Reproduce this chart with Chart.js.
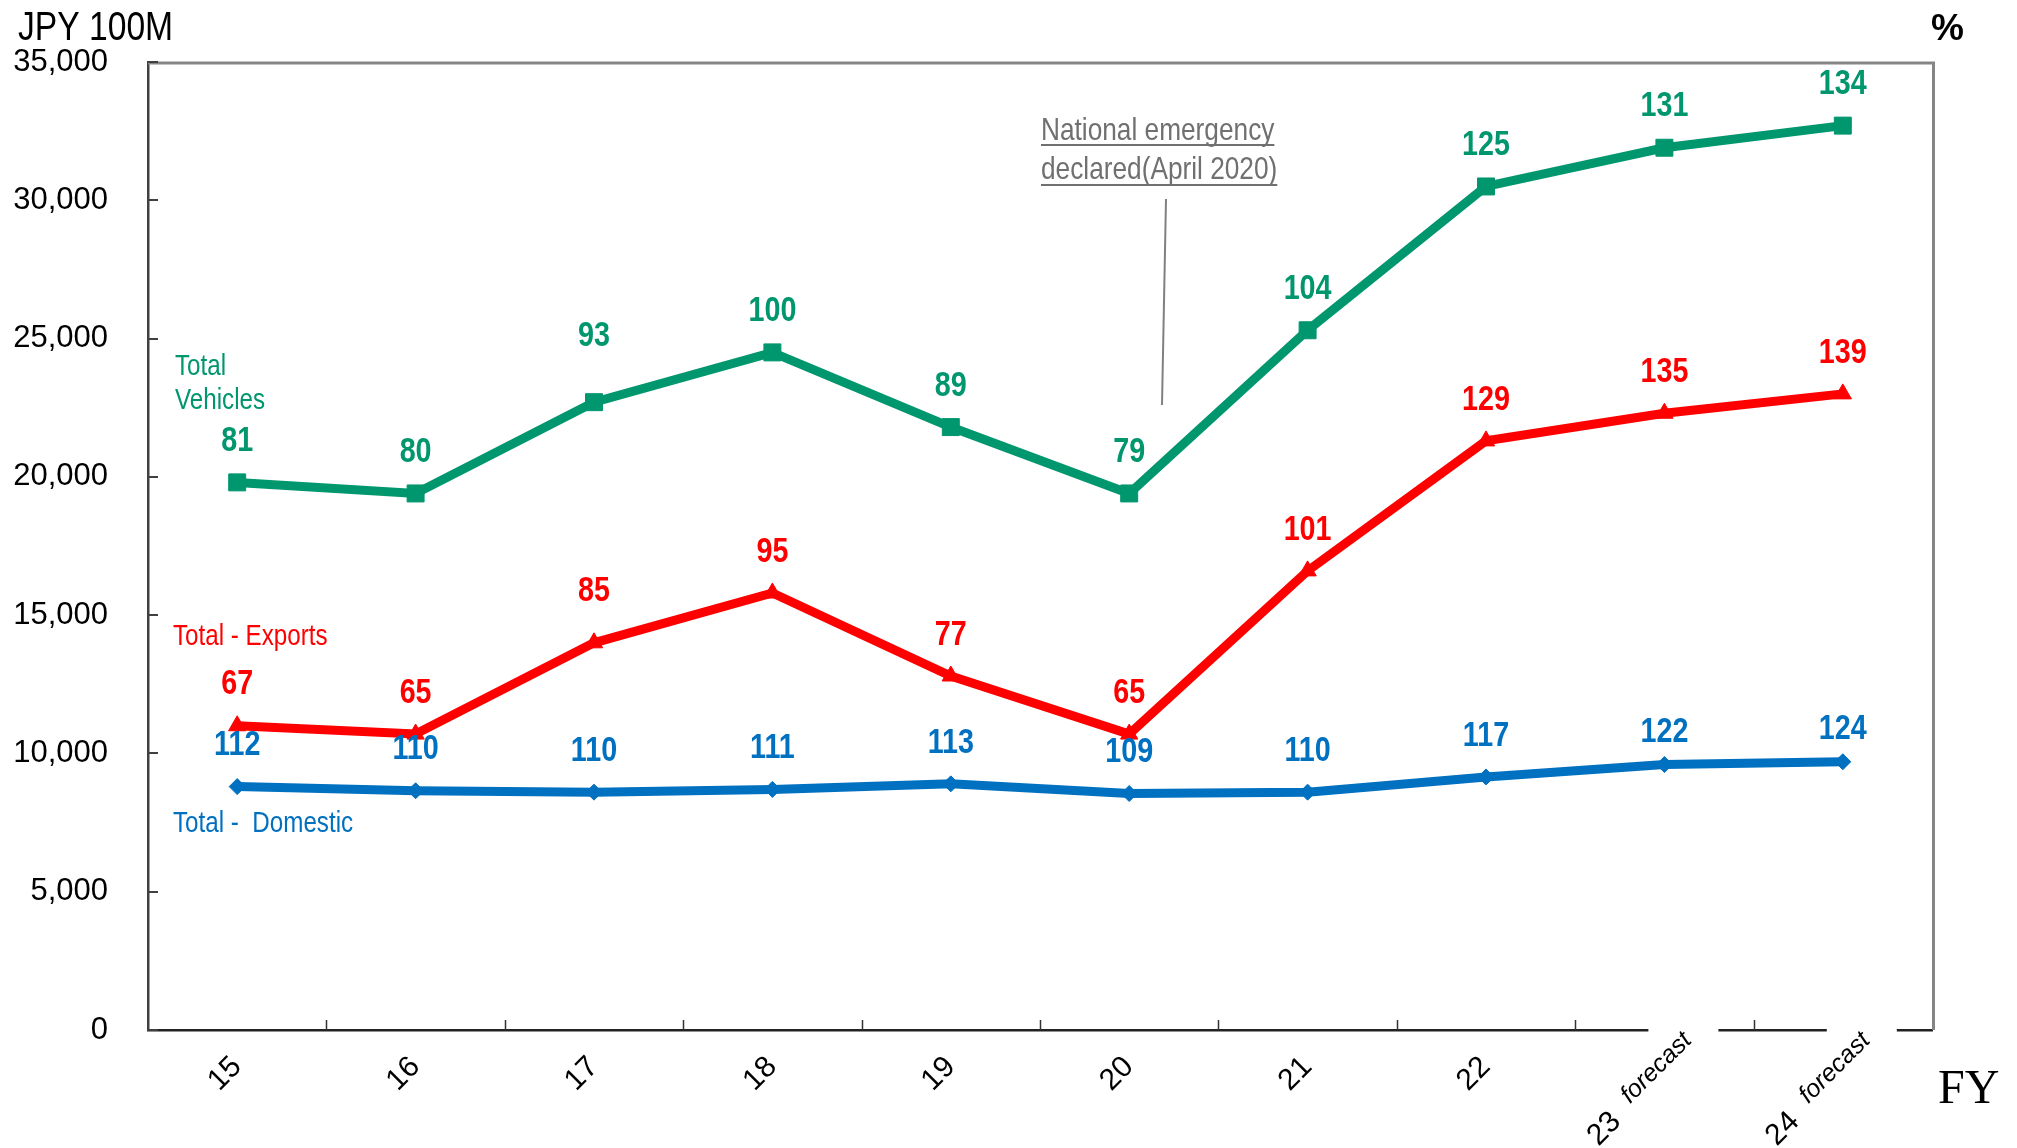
<!DOCTYPE html>
<html><head><meta charset="utf-8">
<script src="https://cdn.jsdelivr.net/npm/chart.js@4.4.1/dist/chart.umd.min.js"></script>
<style>html,body{margin:0;padding:0;background:#fff;overflow:hidden}</style>
</head><body>
<canvas id="c" width="2017" height="1148"></canvas>
<script>
const categories = ['15','16','17','18','19','20','21','22','23 forecast','24 forecast'];
const vehiclesValues = [19800,19400,22700,24500,21800,19400,25300,30500,31900,32700];
const vehiclesPct    = [81,80,93,100,89,79,104,125,131,134];
const exportsValues  = [11000,10700,14000,15800,12800,10700,16600,21300,22300,23000];
const exportsPct     = [67,65,85,95,77,65,101,129,135,139];
const domesticValues = [8800,8650,8600,8700,8900,8550,8600,9150,9600,9700];
const domesticPct    = [112,110,110,111,113,109,110,117,122,124];
const yTickValues    = [0,5000,10000,15000,20000,25000,30000,35000];
const seriesNames    = [['Total','Vehicles'],['Total - Exports'],['Total -  Domestic']];
const annotationText = ['National emergency','declared(April 2020)'];

const GREEN = '#00966E', RED = '#FF0000', BLUE = '#0070C0';
const NARROW_STACK = '"Liberation Sans Narrow","Arial Narrow","Liberation Sans"';

const cv = document.getElementById('c');
const mctx = cv.getContext('2d');
mctx.font = '40px ' + NARROW_STACK; const wN = mctx.measureText('National emergency').width;
mctx.font = '40px "Liberation Sans"'; const wR = mctx.measureText('National emergency').width;
const NARROW_SCALE = Math.abs(wN - wR) < 0.5 ? 0.82 : 1;

function narrowText(ctx, text, x, y, size, weight, align) {
  ctx.save();
  ctx.font = (weight || '') + ' ' + size + 'px ' + NARROW_STACK;
  ctx.textAlign = align || 'left';
  ctx.translate(x, y);
  ctx.scale(NARROW_SCALE, 1);
  ctx.fillText(text, 0, 0);
  const w = ctx.measureText(text).width * NARROW_SCALE;
  ctx.restore();
  return w;
}

const labelOffsets = {0: {2: 66}, 1: {2: 51}, 2: {8: 32, 9: 32}};
const pctSets = [vehiclesPct, exportsPct, domesticPct];
const colors = [GREEN, RED, BLUE];

const deco = {
  id: 'deco',
  afterDatasetsDraw(chart) {
    const ctx = chart.ctx;
    ctx.save();
    ctx.textBaseline = 'middle';
    chart.data.datasets.forEach((ds, i) => {
      const meta = chart.getDatasetMeta(i);
      ctx.fillStyle = colors[i];
      meta.data.forEach((pt, j) => {
        const off = (labelOffsets[i] && labelOffsets[i][j]) || 41;
        narrowText(ctx, String(pctSets[i][j]), pt.x, pt.y - off, 35, 'bold', 'center');
      });
    });
    ctx.restore();
  },
  afterDraw(chart) {
    const ctx = chart.ctx, a = chart.chartArea, xs = chart.scales.x, ys = chart.scales.y;
    ctx.save();
    // top/right frame
    ctx.strokeStyle = '#858585'; ctx.lineWidth = 3;
    ctx.beginPath();
    ctx.moveTo(a.left, a.top + 1); ctx.lineTo(a.right + 1.5, a.top + 1); ctx.lineTo(a.right + 1.5, a.bottom);
    ctx.stroke();
    // inward y ticks
    ctx.strokeStyle = '#404040'; ctx.lineWidth = 2;
    yTickValues.forEach(v => {
      const y = Math.round(ys.getPixelForValue(v));
      ctx.beginPath(); ctx.moveTo(a.left, y); ctx.lineTo(a.left + 10, y); ctx.stroke();
    });
    // inward x ticks at category boundaries
    ctx.lineWidth = 1.5; ctx.strokeStyle = '#333';
    for (let k = 1; k < categories.length; k++) {
      const x = Math.round((xs.getPixelForValue(k - 1) + xs.getPixelForValue(k)) / 2) + 0.5;
      ctx.beginPath(); ctx.moveTo(x, a.bottom); ctx.lineTo(x, a.bottom - 10); ctx.stroke();
    }
    // x labels
    ctx.fillStyle = '#000';
    categories.forEach((lab, i) => {
      const cx = xs.getPixelForValue(i);
      const parts = lab.split(' ');
      ctx.textAlign = 'center'; ctx.textBaseline = 'middle';
      if (parts.length === 1) {
        ctx.save(); ctx.translate(cx - 12, a.bottom + 44); ctx.rotate(-Math.PI / 4);
        ctx.font = '30px "Liberation Sans"'; ctx.fillText(parts[0], 0, 0); ctx.restore();
      } else {
        ctx.fillStyle = '#fff';
        ctx.fillRect(cx - 16, a.bottom - 3, 70, 7);
        ctx.fillStyle = '#000';
        ctx.save(); ctx.translate(cx - 60, a.bottom + 99); ctx.rotate(-Math.PI / 4);
        ctx.font = '30px "Liberation Sans"'; ctx.fillText(parts[0], 0, 0); ctx.restore();
        ctx.save(); ctx.translate(cx - 8, a.bottom + 38); ctx.rotate(-Math.PI / 4);
        ctx.font = 'italic 25px "Liberation Sans"'; ctx.fillText(parts.slice(1).join(' '), 0, 0); ctx.restore();
      }
    });
    ctx.textBaseline = 'alphabetic';
    // axis titles
    ctx.fillStyle = '#000';
    narrowText(ctx, 'JPY 100M', 18, 40, 41, '', 'left');
    ctx.font = 'bold 37px "Liberation Sans"'; ctx.textAlign = 'left';
    ctx.fillText('%', 1931, 40);
    ctx.font = '48px "Liberation Serif"';
    ctx.fillText('FY', 1938, 1103);
    // series names
    ctx.fillStyle = GREEN;
    narrowText(ctx, seriesNames[0][0], 175, 375, 29.5, '', 'left');
    narrowText(ctx, seriesNames[0][1], 175, 409, 29.5, '', 'left');
    ctx.fillStyle = RED;
    narrowText(ctx, seriesNames[1][0], 173, 645, 29.5, '', 'left');
    ctx.fillStyle = BLUE;
    narrowText(ctx, seriesNames[2][0], 173, 832, 29.5, '', 'left');
    // annotation
    ctx.fillStyle = '#707070'; ctx.strokeStyle = '#707070'; ctx.lineWidth = 2;
    const w1 = narrowText(ctx, annotationText[0], 1041, 140, 32, '', 'left');
    ctx.beginPath(); ctx.moveTo(1041, 145); ctx.lineTo(1041 + w1, 145); ctx.stroke();
    const w2 = narrowText(ctx, annotationText[1], 1041, 179, 32, '', 'left');
    ctx.beginPath(); ctx.moveTo(1041, 185); ctx.lineTo(1041 + w2, 185); ctx.stroke();
    ctx.strokeStyle = '#808080'; ctx.lineWidth = 2;
    ctx.beginPath(); ctx.moveTo(1166, 199); ctx.lineTo(1162, 405); ctx.stroke();
    ctx.restore();
  }
};

function ds(label, data, color, style, radius) {
  return {
    label, data, borderColor: color, backgroundColor: color,
    borderWidth: 9, tension: 0,
    pointStyle: style, pointRadius: radius, pointHoverRadius: radius,
    pointBackgroundColor: color, pointBorderColor: color, pointBorderWidth: 1
  };
}

new Chart(cv, {
  type: 'line',
  data: {
    labels: categories,
    datasets: [
      ds('Total Vehicles', vehiclesValues, GREEN, 'rect', 12),
      ds('Total - Exports', exportsValues, RED, 'triangle', 10),
      ds('Total - Domestic', domesticValues, BLUE, 'rectRot', 8)
    ]
  },
  options: {
    responsive: false, animation: false, devicePixelRatio: 1,
    layout: {padding: {left: 0, right: 85, top: 62, bottom: 0}},
    plugins: {legend: {display: false}, tooltip: {enabled: false}, title: {display: false}},
    scales: {
      x: {
        offset: true,
        grid: {display: false, drawTicks: false},
        border: {display: true, color: '#222', width: 2.5},
        ticks: {display: false},
        afterFit(s) { s.height = 118; }
      },
      y: {
        min: 0, max: 35000,
        afterBuildTicks(s) { s.ticks = yTickValues.map(v => ({value: v})); },
        grid: {display: false, drawTicks: false},
        border: {display: true, color: '#404040', width: 2.5},
        ticks: {
          padding: 40, color: '#000',
          font: {family: '"Liberation Sans"', size: 31},
          callback: v => Number(v).toLocaleString('en-US')
        },
        afterFit(s) { s.width = 148; }
      }
    }
  },
  plugins: [deco]
});
</script>
</body></html>
